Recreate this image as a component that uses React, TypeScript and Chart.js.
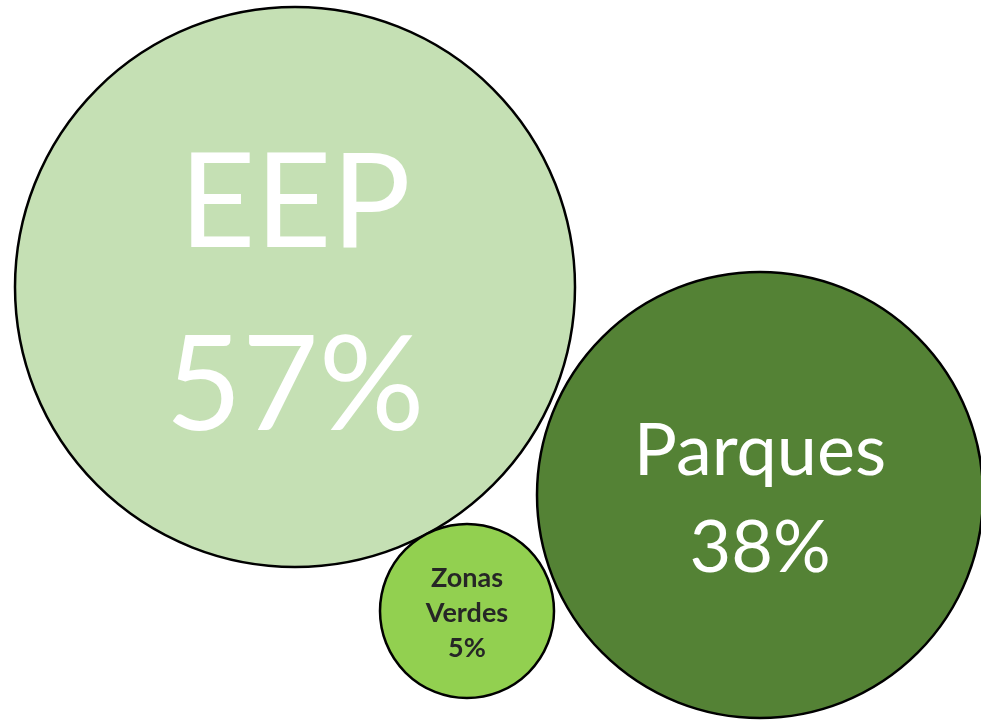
import React, { useEffect, useRef } from "react";
import { Chart, registerables } from "chart.js";

Chart.register(...registerables);

const categories = ["EEP", "Parques", "Zonas Verdes"];
const shares = [57, 38, 5];
const bubbleX = [295, 760, 467];
const bubbleY = [287, 495, 611];
const bubbleR = [280, 223, 87];

const fillColors = ["#C5E0B4", "#548235", "#92D050"];

type LabelStyle = {
  lines: string[];
  size: number;
  weight: string;
  color: string;
  capH: number;
  lh: number;
  dy: number;
};

const labelStyles: LabelStyle[] = [
  { lines: [categories[0], shares[0] + "%"], size: 132, weight: "normal", color: "#FFFFFF", capH: 97, lh: 183, dy: 3 },
  { lines: [categories[1], shares[1] + "%"], size: 72, weight: "normal", color: "#FFFFFF", capH: 51, lh: 97, dy: 3 },
  { lines: ["Zonas", "Verdes", shares[2] + "%"], size: 27, weight: "bold", color: "#262626", capH: 19, lh: 35, dy: 1 },
];

const labelPlugin = {
  id: "bubbleLabels",
  afterDatasetsDraw(chart: any) {
    const ctx = chart.ctx;
    const meta = chart.getDatasetMeta(0);
    meta.data.forEach((el: any, i: number) => {
      const st = labelStyles[i];
      const total = st.capH + (st.lines.length - 1) * st.lh;
      const top = el.y + st.dy - total / 2;
      ctx.save();
      ctx.fillStyle = st.color;
      ctx.textAlign = "center";
      ctx.textBaseline = "alphabetic";
      ctx.font = `${st.weight} ${st.size}px Lato, "Open Sans", sans-serif`;
      st.lines.forEach((line, j) => {
        ctx.fillText(line, el.x, top + st.capH + j * st.lh);
      });
      ctx.restore();
    });
  },
};

export default function App() {
  const ref = useRef<HTMLCanvasElement>(null);
  useEffect(() => {
    document.body.style.margin = "0";
    const chart = new Chart(ref.current!, {
      type: "bubble",
      data: {
        labels: categories,
        datasets: [
          {
            label: "Participación",
            data: categories.map((_, i) => ({ x: bubbleX[i], y: bubbleY[i], r: bubbleR[i] })),
            backgroundColor: fillColors,
            borderColor: "#000000",
            borderWidth: 2.5,
            hoverRadius: 0,
            clip: false as any,
          },
        ],
      },
      options: {
        responsive: false,
        animation: false,
        layout: { padding: 0, autoPadding: false },
        plugins: { legend: { display: false }, tooltip: { enabled: false } },
        events: [],
        scales: {
          x: { type: "linear", min: 0, max: 981, display: false },
          y: { type: "linear", min: 0, max: 723, reverse: true, display: false },
        },
      },
      plugins: [labelPlugin],
    });
    return () => chart.destroy();
  }, []);
  return (
    <div style={{ position: "absolute", left: 0, top: 0, width: 981, height: 723, background: "#fff" }}>
      <canvas ref={ref} width={981} height={723} />
    </div>
  );
}
